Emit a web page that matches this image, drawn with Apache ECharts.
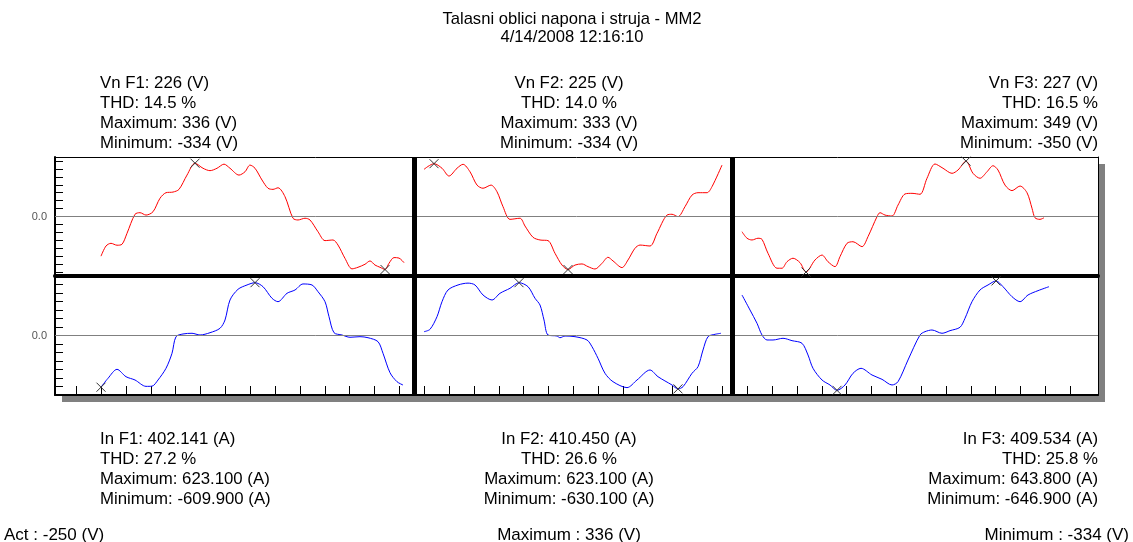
<!DOCTYPE html>
<html><head><meta charset="utf-8">
<script src="https://cdn.jsdelivr.net/npm/echarts@6/dist/echarts.min.js"></script>
<style>html,body{margin:0;padding:0;background:#fff}#c{width:1133px;height:542px}</style>
</head><body><div id="c"></div>
<script>
// ---- data (x = sample index along the common time axis) ----
const PHASES = ['F1', 'F2', 'F3'];
const TITLE = 'Talasni oblici napona i struja - MM2';
const DATE = '4/14/2008 12:16:10';

const VOLT_F1 = [[46,-250],[51,-186],[56,-169],[62,-181],[67,-175],[72,-106],[80,14],[85,24],[91,9],[98,30],[105,115],[111,150],[118,154],[124,171],[132,261],[140,336],[148,304],[155,289],[162,304],[169,330],[175,304],[184,261],[190,282],[195,324],[200,304],[207,230],[213,178],[218,171],[223,181],[230,125],[238,-11],[243,-22],[250,-11],[255,-22],[263,-96],[270,-152],[278,-148],[283,-180],[290,-264],[297,-330],[303,-320],[310,-301],[315,-280],[320,-306],[325,-320],[330,-334],[334,-295],[339,-259],[344,-262],[349,-291]];
const VOLT_F2 = [[369,297],[379,333],[387,304],[394,255],[402,304],[408,329],[415,282],[422,198],[428,178],[436,198],[442,156],[448,62],[455,-18],[465,-11],[470,-60],[478,-131],[485,-148],[493,-152],[500,-232],[507,-306],[513,-334],[520,-306],[527,-299],[533,-316],[540,-331],[547,-295],[553,-257],[558,-280],[567,-322],[573,-274],[580,-200],[585,-180],[595,-186],[602,-106],[612,9],[617,14],[623,-1],[630,62],[637,135],[643,150],[652,150],[657,188],[667,324]];
const VOLT_F3 = [[687,-96],[692,-137],[697,-148],[703,-137],[707,-144],[713,-232],[722,-326],[727,-326],[732,-285],[738,-263],[745,-291],[751,-350],[760,-274],[767,-243],[773,-285],[780,-316],[785,-253],[792,-169],[798,-159],[807,-190],[813,-127],[822,-1],[825,24],[830,9],[837,3],[843,72],[850,142],[857,146],[865,140],[872,241],[880,331],[888,304],[897,272],[903,293],[911,349],[918,272],[925,241],[932,282],[938,320],[943,293],[950,198],[957,163],[965,192],[972,150],[977,52],[980,-8],[985,-18],[989,-8]];

const CURR_F1 = [[46,-609.9],[53,-505],[62,-399],[71,-486],[80,-525],[91,-600],[97,-598],[103,-525],[111,-387],[117,-210],[121,-14],[128,18],[137,26],[145,6],[155,33],[165,85],[170,183],[175,419],[183,545],[192,596],[200,623.1],[208,576],[217,439],[223,399],[232,498],[240,537],[248,608],[257,596],[263,517],[270,399],[274,222],[279,33],[287,6],[295,-21],[305,-14],[313,-26],[323,-73],[328,-210],[335,-439],[342,-545],[348,-584]];
const CURR_F2 = [[369,45],[375,73],[382,222],[387,399],[393,537],[403,596],[413,618],[420,596],[428,478],[437,419],[445,498],[455,557],[464,623.1],[473,576],[480,439],[485,360],[489,183],[493,6],[502,-6],[505,-26],[510,-6],[520,-14],[532,-53],[537,-132],[543,-269],[550,-446],[558,-545],[572,-615],[582,-525],[595,-407],[603,-486],[617,-584],[623,-630.1],[628,-604],[637,-446],[643,-368],[648,-171],[653,-14],[660,14],[666,26]];
const CURR_F3 = [[687,478],[695,301],[702,144],[707,6],[712,-53],[718,-53],[728,-33],[737,-61],[747,-92],[753,-230],[758,-387],[767,-525],[775,-584],[782,-646.9],[790,-584],[798,-446],[806,-387],[817,-466],[827,-517],[837,-584],[843,-545],[853,-289],[865,6],[870,45],[877,65],[887,26],[895,57],[905,97],[910,203],[917,399],[925,537],[933,596],[941,643.8],[948,576],[957,458],[965,399],[973,478],[983,529],[994,576]];

const VN = ['226', '225', '227'];
const V_THD = ['14.5', '14.0', '16.5'];
const V_MAX = ['336', '333', '349'];
const V_MIN = ['-334', '-334', '-350'];
const IN = ['402.141', '410.450', '409.534'];
const I_THD = ['27.2', '26.6', '25.8'];
const I_MAX = ['623.100', '623.100', '643.800'];
const I_MIN = ['-609.900', '-630.100', '-646.900'];
const ACT = '-250';

const X_RANGE = [0, 1043];
const X_TICKS = [21,46,71,96,120,145,170,195,220,245,270,294,319,344,369,394,419,444,468,493,518,543,568,593,617,642,667,692,717,742,767,791,816,841,866,891,916,940,965,990,1015];
const DIVIDERS = [359, 677.5];
const V_RANGE = [-375, 375];
const V_TICKS = [-350,-300,-250,-200,-150,-100,-50,0,50,100,150,200,250,300,350];
const I_RANGE = [-702, 702];
const I_TICKS = [-600,-500,-400,-300,-200,-100,0,100,200,300,400,500,600];
const ZERO_LABEL = '0.0';

// ---- chart ----
const VOLT = [VOLT_F1, VOLT_F2, VOLT_F3];
const CURR = [CURR_F1, CURR_F2, CURR_F3];
const FAMILY = '"Liberation Sans", Arial, sans-serif';

const gridBase = {left: 55, right: 35, height: 119, show: true, backgroundColor: '#fff',
  borderWidth: 0, shadowColor: '#808080', shadowOffsetX: 7, shadowOffsetY: 7, shadowBlur: 0};

function yAxis(gi, range, ticks) {
  return {gridIndex: gi, type: 'value', min: range[0], max: range[1],
    axisLine: {show: true, onZero: false, lineStyle: {color: '#000', width: 2}},
    axisTick: {show: true, inside: true, length: 8, customValues: ticks, lineStyle: {color: '#000', width: 1}},
    axisLabel: {show: true, customValues: [0], formatter: () => ZERO_LABEL, color: '#555', fontSize: 11, margin: 8,
      fontFamily: FAMILY},
    splitLine: {show: false}};
}
function frameAxis(kind, gi, range, pos) {
  return {gridIndex: gi, type: 'value', min: range[0], max: range[1], position: pos,
    axisLine: {show: true, onZero: false, lineStyle: {color: '#000', width: 1}},
    axisTick: {show: false}, axisLabel: {show: false}, splitLine: {show: false}};
}

const markPoint = {symbol: 'path://M0,0L10,10M10,0L0,10', symbolSize: 9, silent: true,
  itemStyle: {color: 'rgba(0,0,0,0)', borderColor: '#333', borderWidth: 1},
  label: {show: false}, data: [{type: 'max'}, {type: 'min'}]};

function markLine() {
  return {silent: true, symbol: ['none', 'none'], label: {show: false}, animation: false,
    data: [
      {yAxis: 0, lineStyle: {color: '#808080', width: 1, type: 'solid'}},
      {xAxis: DIVIDERS[0], lineStyle: {color: '#000', width: 5, type: 'solid'}},
      {xAxis: DIVIDERS[1], lineStyle: {color: '#000', width: 5, type: 'solid'}}
    ]};
}

const series = [];
PHASES.forEach((p, i) => {
  series.push({name: 'V' + p, type: 'line', xAxisIndex: 0, yAxisIndex: 0, data: VOLT[i],
    showSymbol: false, smooth: 0.3, color: '#ff0000', lineStyle: {width: 1, color: '#ff0000'},
    markPoint: markPoint, markLine: i === 0 ? markLine() : undefined, z: 3});
  series.push({name: 'I' + p, type: 'line', xAxisIndex: 1, yAxisIndex: 1, data: CURR[i],
    showSymbol: false, smooth: 0.3, color: '#0000ff', lineStyle: {width: 1, color: '#0000ff'},
    markPoint: markPoint, markLine: i === 0 ? markLine() : undefined, z: 3});
});

function txt(x, y, s, align, size) {
  return {type: 'text', x: x, y: y, silent: true,
    style: {text: s, font: size + 'px ' + FAMILY, fill: '#000', textAlign: align, textVerticalAlign: 'middle', align: align, verticalAlign: 'middle'}};
}
const BLOCK_X = [100, 569, 1098];
const BLOCK_ALIGN = ['left', 'center', 'right'];
const graphics = [txt(572, 19.5, TITLE, 'center', 16.6), txt(572, 37.2, DATE, 'center', 16.6)];
PHASES.forEach((p, i) => {
  const top = ['Vn ' + p + ': ' + VN[i] + ' (V)', 'THD: ' + V_THD[i] + ' %', 'Maximum: ' + V_MAX[i] + ' (V)', 'Minimum: ' + V_MIN[i] + ' (V)'];
  const bot = ['In ' + p + ': ' + IN[i] + ' (A)', 'THD: ' + I_THD[i] + ' %', 'Maximum: ' + I_MAX[i] + ' (A)', 'Minimum: ' + I_MIN[i] + ' (A)'];
  top.forEach((s, k) => graphics.push(txt(BLOCK_X[i], 83.7 + k * 19.8, s, BLOCK_ALIGN[i], 16.8)));
  bot.forEach((s, k) => graphics.push(txt(BLOCK_X[i], 439.5 + k * 19.8, s, BLOCK_ALIGN[i], 16.8)));
});
graphics.push(txt(4, 535, 'Act : ' + ACT + ' (V)', 'left', 17));
graphics.push(txt(569, 535, 'Maximum : ' + V_MAX[0] + ' (V)', 'center', 17));
graphics.push(txt(1129, 535, 'Minimum : ' + V_MIN[0] + ' (V)', 'right', 17));

const chart = echarts.init(document.getElementById('c'), null, {renderer: 'canvas'});
chart.setOption({
  animation: false,
  backgroundColor: '#fff',
  grid: [Object.assign({top: 157}, gridBase), Object.assign({top: 276}, gridBase)],
  xAxis: [
    {gridIndex: 0, type: 'value', min: X_RANGE[0], max: X_RANGE[1],
      axisLine: {show: true, onZero: false, lineStyle: {color: '#000', width: 4}},
      axisTick: {show: false}, axisLabel: {show: false}, splitLine: {show: false}},
    {gridIndex: 1, type: 'value', min: X_RANGE[0], max: X_RANGE[1],
      axisLine: {show: true, onZero: false, lineStyle: {color: '#000', width: 2}},
      axisTick: {show: true, inside: true, length: 9, customValues: X_TICKS, lineStyle: {color: '#000', width: 1}},
      axisLabel: {show: false}, splitLine: {show: false}},
    frameAxis('x', 0, X_RANGE, 'top')
  ],
  yAxis: [yAxis(0, V_RANGE, V_TICKS), yAxis(1, I_RANGE, I_TICKS),
    frameAxis('y', 0, V_RANGE, 'right'), frameAxis('y', 1, I_RANGE, 'right')],
  series: series,
  graphic: {elements: graphics}
});
</script></body></html>
